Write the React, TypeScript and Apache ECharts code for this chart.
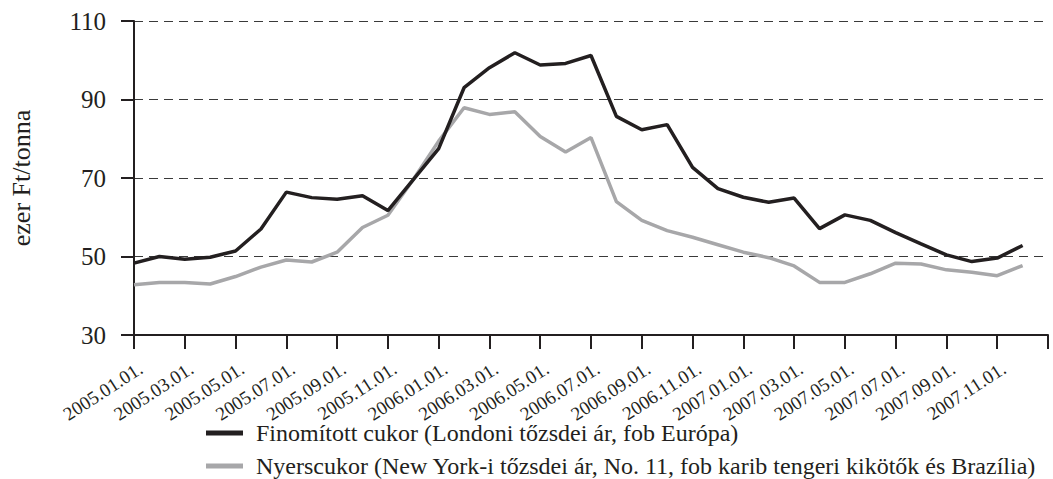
import React, { useEffect, useRef } from "react";
import * as echarts from "echarts";

const categories: string[] = [
  "2005.01.01.", "2005.02.01.", "2005.03.01.", "2005.04.01.", "2005.05.01.", "2005.06.01.",
  "2005.07.01.", "2005.08.01.", "2005.09.01.", "2005.10.01.", "2005.11.01.", "2005.12.01.",
  "2006.01.01.", "2006.02.01.", "2006.03.01.", "2006.04.01.", "2006.05.01.", "2006.06.01.",
  "2006.07.01.", "2006.08.01.", "2006.09.01.", "2006.10.01.", "2006.11.01.", "2006.12.01.",
  "2007.01.01.", "2007.02.01.", "2007.03.01.", "2007.04.01.", "2007.05.01.", "2007.06.01.",
  "2007.07.01.", "2007.08.01.", "2007.09.01.", "2007.10.01.", "2007.11.01.", "2007.12.01.",
  "2008.01.01.",
];

const refinedName = "Finomított cukor (Londoni tőzsdei ár, fob Európa)";
const rawName = "Nyerscukor (New York-i tőzsdei ár, No. 11, fob karib tengeri kikötők és Brazília)";

const refined: number[] = [
  48.3, 50.0, 49.3, 49.8, 51.4, 57.0, 66.4, 65.0, 64.6, 65.5, 61.7, 69.6,
  77.5, 93.0, 98.1, 101.9, 98.8, 99.2, 101.2, 85.7, 82.3, 83.6, 72.7, 67.3,
  65.1, 63.8, 64.9, 57.1, 60.6, 59.2, 56.1, 53.2, 50.4, 48.7, 49.6, 52.8,
];

const raw: number[] = [
  42.8, 43.4, 43.4, 43.0, 44.9, 47.3, 49.1, 48.6, 51.1, 57.4, 60.5, 69.6,
  79.4, 87.9, 86.2, 86.9, 80.6, 76.6, 80.3, 64.0, 59.2, 56.6, 54.9, 53.0,
  51.1, 49.7, 47.6, 43.4, 43.4, 45.6, 48.3, 48.1, 46.6, 46.0, 45.1, 47.7,
];

const yMin = 30;
const yMax = 110;
const yStep = 20;

const FONT = "'Liberation Serif', 'Times New Roman', serif";
const INK = "#231f20";
const GRAY = "#a7a7a9";

export default function App() {
  const ref = useRef<HTMLDivElement>(null);

  useEffect(() => {
    if (!ref.current) return;
    const chart = echarts.init(ref.current, undefined, { renderer: "svg" });
    chart.setOption({
      animation: false,
      backgroundColor: "#ffffff",
      textStyle: { fontFamily: FONT },
      grid: { left: 130, right: 5, top: 21, bottom: 144, containLabel: false },
      legend: {
        orient: "vertical",
        left: 206,
        top: 421,
        height: 70,
        padding: 0,
        itemWidth: 37,
        itemHeight: 5,
        itemGap: 9,
        icon: "rect",
        textStyle: { fontFamily: FONT, fontSize: 24, color: INK, padding: [0, 0, 0, 8], lineHeight: 24 },
        data: [
          { name: refinedName, itemStyle: { color: INK } },
          { name: rawName, itemStyle: { color: GRAY } },
        ],
      },
      xAxis: {
        type: "category",
        data: categories,
        boundaryGap: false,
        axisLine: { lineStyle: { color: INK, width: 2 } },
        axisTick: {
          interval: (i: number) => i % 2 === 0,
          length: 14,
          lineStyle: { color: INK, width: 2 },
        },
        axisLabel: {
          interval: (i: number) => i % 2 === 0 && i < 36,
          rotate: 33,
          margin: 36,
          fontFamily: FONT,
          fontSize: 19,
          color: INK,
          padding: [0, -8, 0, 0],
        },
        splitLine: { show: false },
      },
      yAxis: {
        type: "value",
        min: yMin,
        max: yMax,
        interval: yStep,
        name: "ezer Ft/tonna",
        nameLocation: "middle",
        nameGap: 100,
        nameTextStyle: { fontFamily: FONT, fontSize: 26, color: INK },
        axisLine: { show: true, lineStyle: { color: INK, width: 2 } },
        axisTick: { show: true, length: 13, lineStyle: { color: INK, width: 2 } },
        axisLabel: { margin: 28, fontFamily: FONT, fontSize: 25, color: INK },
        splitLine: { lineStyle: { color: "#3a3a3a", width: 1.2, type: [9, 6] } },
      },
      series: [
        {
          name: refinedName,
          type: "line",
          data: refined,
          symbol: "none",
          lineStyle: { color: INK, width: 3.5 },
          itemStyle: { color: INK },
        },
        {
          name: rawName,
          type: "line",
          data: raw,
          symbol: "none",
          lineStyle: { color: GRAY, width: 3.5 },
          itemStyle: { color: GRAY },
          z: 1,
        },
      ],
    });
    return () => chart.dispose();
  }, []);

  return (
    <div
      ref={ref}
      style={{ position: "absolute", left: 0, top: 0, width: 1053, height: 479 }}
    />
  );
}
